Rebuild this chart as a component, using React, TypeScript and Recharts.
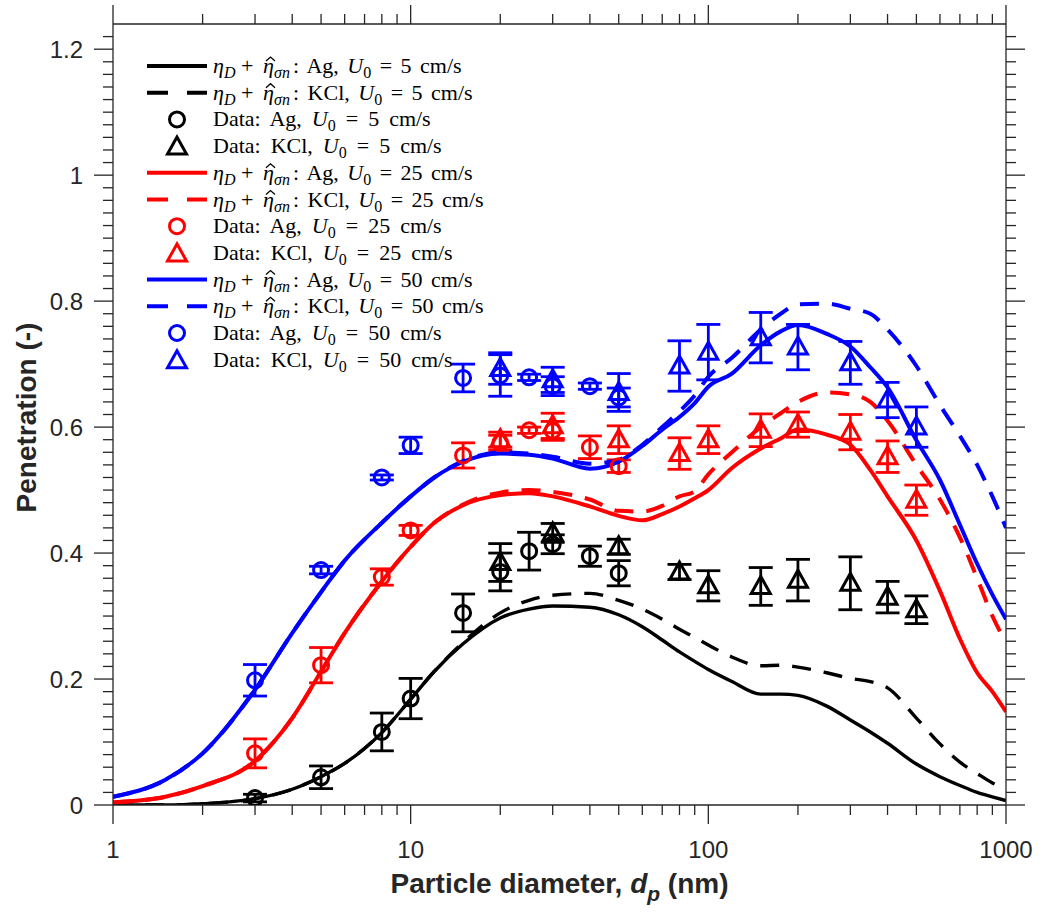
import React from 'react';
import { ComposedChart, Line, Scatter, XAxis, YAxis, ErrorBar, Legend } from 'recharts';

// ---- model curves: particle diameter grid (nm) and penetration values ----
const diam = [1, 1.5, 2, 3, 4, 5, 6, 8, 10, 12, 15, 20, 25, 30, 40, 50, 60, 70, 80, 90, 100, 120, 150, 175, 200, 250, 300, 350, 400, 500, 600, 700, 800, 900, 1000];

const agModel5 = [0.0, 0.0, 0.002, 0.01, 0.025, 0.045, 0.066, 0.115, 0.168, 0.212, 0.256, 0.297, 0.311, 0.316, 0.314, 0.302, 0.283, 0.262, 0.243, 0.228, 0.215, 0.196, 0.176, 0.176, 0.174, 0.157, 0.135, 0.116, 0.098, 0.065, 0.045, 0.031, 0.02, 0.013, 0.007];
const kclModel5 = [0.0, 0.0, 0.002, 0.01, 0.025, 0.045, 0.066, 0.115, 0.168, 0.212, 0.258, 0.305, 0.325, 0.333, 0.336, 0.325, 0.311, 0.295, 0.279, 0.266, 0.254, 0.235, 0.221, 0.222, 0.219, 0.21, 0.201, 0.196, 0.186, 0.138, 0.097, 0.068, 0.05, 0.035, 0.025];
const agModel25 = [0.004, 0.013, 0.03, 0.07, 0.138, 0.212, 0.273, 0.355, 0.41, 0.448, 0.476, 0.492, 0.495, 0.49, 0.474, 0.459, 0.452, 0.462, 0.474, 0.487, 0.5, 0.535, 0.566, 0.582, 0.596, 0.588, 0.572, 0.532, 0.49, 0.42, 0.34, 0.264, 0.21, 0.18, 0.148];
const kclModel25 = [0.004, 0.013, 0.03, 0.07, 0.138, 0.212, 0.273, 0.355, 0.41, 0.448, 0.477, 0.496, 0.5, 0.497, 0.485, 0.467, 0.466, 0.475, 0.49, 0.498, 0.525, 0.56, 0.6, 0.622, 0.64, 0.655, 0.652, 0.64, 0.61, 0.54, 0.485, 0.425, 0.36, 0.3, 0.258];
const agModel50 = [0.013, 0.04, 0.082, 0.183, 0.273, 0.338, 0.388, 0.448, 0.49, 0.52, 0.545, 0.558, 0.556, 0.55, 0.534, 0.545, 0.57, 0.596, 0.616, 0.638, 0.664, 0.685, 0.73, 0.752, 0.762, 0.748, 0.728, 0.695, 0.663, 0.579, 0.516, 0.445, 0.383, 0.334, 0.295];
const kclModel50 = [0.013, 0.04, 0.082, 0.183, 0.273, 0.338, 0.388, 0.448, 0.49, 0.52, 0.546, 0.56, 0.558, 0.553, 0.542, 0.548, 0.572, 0.6, 0.625, 0.65, 0.68, 0.71, 0.755, 0.78, 0.795, 0.796, 0.788, 0.78, 0.755, 0.697, 0.635, 0.586, 0.54, 0.49, 0.44];

// ---- measurements ----
const agDiam = [3, 5, 8, 10, 15, 20, 25, 30, 40, 50];
const agData5 = [0.011, 0.044, 0.116, 0.169, 0.305, 0.37, 0.403, 0.414, 0.395, 0.368];
const agErr5 = [0.006, 0.018, 0.03, 0.032, 0.03, 0.03, 0.03, 0.015, 0.016, 0.02];
const agData25 = [0.082, 0.222, 0.362, 0.436, 0.555, 0.575, 0.595, 0.594, 0.568, 0.538];
const agErr25 = [0.023, 0.028, 0.013, 0.008, 0.02, 0.012, 0.005, 0.015, 0.018, 0.01];
const agData50 = [0.198, 0.373, 0.52, 0.571, 0.678, 0.682, 0.679, 0.665, 0.665, 0.647];
const agErr50 = [0.025, 0.006, 0.004, 0.013, 0.022, 0.033, 0.005, 0.015, 0.005, 0.015];

const kclDiam = [20, 30, 50, 80, 100, 150, 200, 300, 400, 500];
const kclData5 = [0.385, 0.432, 0.41, 0.37, 0.348, 0.347, 0.357, 0.352, 0.33, 0.31];
const kclErr5 = [0.03, 0.015, 0.012, 0.012, 0.024, 0.03, 0.033, 0.042, 0.025, 0.022];
const kclData25 = [0.58, 0.602, 0.58, 0.558, 0.58, 0.595, 0.604, 0.592, 0.553, 0.484];
const kclErr25 = [0.012, 0.02, 0.022, 0.025, 0.022, 0.026, 0.02, 0.028, 0.025, 0.024];
const kclData50 = [0.693, 0.675, 0.655, 0.697, 0.719, 0.742, 0.727, 0.702, 0.643, 0.6];
const kclErr50 = [0.025, 0.02, 0.03, 0.04, 0.044, 0.04, 0.036, 0.034, 0.028, 0.032];

// ---- axis ticks ----
const xMajorTicks = [1, 10, 100, 1000];
const xMinorSteps = [2, 3, 4, 5, 6, 7, 8, 9];
const yMajorTicks = [0, 0.2, 0.4, 0.6, 0.8, 1, 1.2];

const BLACK = '#000000';
const RED = '#ff0000';
const BLUE = '#0000ff';
const AXIS = '#262626';

const xTicks: number[] = [];
xMajorTicks.forEach((m, i) => {
  xTicks.push(m);
  if (i < xMajorTicks.length - 1) xMinorSteps.forEach((s) => xTicks.push(m * s));
});
const yTicks: number[] = [];
for (let i = 0; i <= 61; i++) yTicks.push(Math.round(i * 2) / 100);
const isYMajor = (v: number) => yMajorTicks.some((m) => Math.abs(m - v) < 1e-9);
const isXMajor = (v: number) => xMajorTicks.includes(v);

const curveTable = diam.map((d, i) => ({
  d,
  agModel5: agModel5[i],
  kclModel5: kclModel5[i],
  agModel25: agModel25[i],
  kclModel25: kclModel25[i],
  agModel50: agModel50[i],
  kclModel50: kclModel50[i],
}));

const points = (xs: number[], ys: number[], es: number[]) => xs.map((d, i) => ({ d, v: ys[i], e: es[i] }));

const MAJOR_LEN = 19;
const MINOR_LEN = 10;
const SANS = 'Liberation Sans, Arial, sans-serif';
const TICK_FONT = { fontFamily: SANS, fontSize: 24, fill: AXIS };

const BottomTick = (p: any) => {
  const v = p.payload.value;
  const major = isXMajor(v);
  return (
    <g>
      <line x1={p.x} x2={p.x} y1={p.y} y2={p.y + (major ? MAJOR_LEN : MINOR_LEN)} stroke={AXIS} strokeWidth={1.3} />
      {major && (
        <text x={p.x} y={p.y + 53} textAnchor="middle" {...TICK_FONT}>
          {v}
        </text>
      )}
    </g>
  );
};

const TopTick = (p: any) => {
  const v = p.payload.value;
  const major = isXMajor(v);
  return <line x1={p.x} x2={p.x} y1={p.y} y2={p.y - (major ? MAJOR_LEN : MINOR_LEN)} stroke={AXIS} strokeWidth={1.3} />;
};

const LeftTick = (p: any) => {
  const v = p.payload.value;
  const major = isYMajor(v);
  return (
    <g>
      <line x1={p.x} x2={p.x - (major ? MAJOR_LEN : MINOR_LEN)} y1={p.y} y2={p.y} stroke={AXIS} strokeWidth={1.3} />
      {major && (
        <text x={p.x - 30} y={p.y} dy="0.36em" textAnchor="end" {...TICK_FONT}>
          {String(Math.round(v * 10) / 10)}
        </text>
      )}
    </g>
  );
};

const RightTick = (p: any) => {
  const v = p.payload.value;
  const major = isYMajor(v);
  return <line x1={p.x} x2={p.x + (major ? MAJOR_LEN : MINOR_LEN)} y1={p.y} y2={p.y} stroke={AXIS} strokeWidth={1.3} />;
};

const MARK_W = 3;
const circleShape = (color: string) => (p: any) => (
  <circle cx={p.cx} cy={p.cy} r={7.5} fill="none" stroke={color} strokeWidth={MARK_W} />
);
const triangleShape = (color: string) => (p: any) => (
  <polygon
    points={`${p.cx},${p.cy - 10} ${p.cx - 9.5},${p.cy + 7} ${p.cx + 9.5},${p.cy + 7}`}
    fill="none"
    stroke={color}
    strokeWidth={MARK_W}
    strokeLinejoin="miter"
  />
);

// ---- legend ----
const SERIF = 'Liberation Serif, Times New Roman, serif';
const FS = 22;
const SUB = 16;

// model entry: η_D + η̂_σn: salt, U_0 = speed cm/s
const ModelLabel = ({ base, salt, speed }: { base: number; salt: string; speed: string }) => (
  <g fontFamily={SERIF} fontSize={FS} fill="#000">
    <text x={66} y={base}>
      <tspan fontStyle="italic">η</tspan>
      <tspan fontStyle="italic" fontSize={SUB} dy={5}>D</tspan>
      <tspan dy={-5}>{' +'}</tspan>
    </text>
    <text x={116} y={base} fontStyle="italic">η</text>
    <path
      d={`M${119} ${base - 12} L${123.5} ${base - 16} L${128} ${base - 12}`}
      stroke="#000"
      strokeWidth={1.3}
      fill="none"
    />
    <text x={127} y={base + 5} fontStyle="italic" fontSize={SUB}>σn</text>
    <text x={146} y={base} wordSpacing={3}>
      <tspan>{`: ${salt}, `}</tspan>
      <tspan fontStyle="italic">U</tspan>
      <tspan fontSize={SUB} dy={5}>0</tspan>
      <tspan dy={-5}>{` = ${speed} cm/s`}</tspan>
    </text>
  </g>
);

const DataLabel = ({ base, salt, speed }: { base: number; salt: string; speed: string }) => (
  <text x={66} y={base} fontFamily={SERIF} fontSize={FS} fill="#000" wordSpacing={4.5}>
    <tspan>{`Data: ${salt}, `}</tspan>
    <tspan fontStyle="italic">U</tspan>
    <tspan fontSize={SUB} dy={5}>0</tspan>
    <tspan dy={-5}>{` = ${speed} cm/s`}</tspan>
  </text>
);

const legendRows = [
  { kind: 'solid', color: BLACK, salt: 'Ag', speed: '5' },
  { kind: 'dash', color: BLACK, salt: 'KCl', speed: '5' },
  { kind: 'circle', color: BLACK, salt: 'Ag', speed: '5' },
  { kind: 'tri', color: BLACK, salt: 'KCl', speed: '5' },
  { kind: 'solid', color: RED, salt: 'Ag', speed: '25' },
  { kind: 'dash', color: RED, salt: 'KCl', speed: '25' },
  { kind: 'circle', color: RED, salt: 'Ag', speed: '25' },
  { kind: 'tri', color: RED, salt: 'KCl', speed: '25' },
  { kind: 'solid', color: BLUE, salt: 'Ag', speed: '50' },
  { kind: 'dash', color: BLUE, salt: 'KCl', speed: '50' },
  { kind: 'circle', color: BLUE, salt: 'Ag', speed: '50' },
  { kind: 'tri', color: BLUE, salt: 'KCl', speed: '50' },
];

const LegendBox = () => {
  const rowH = 26.7;
  return (
    <svg width={380} height={330} style={{ display: 'block', overflow: 'visible' }}>
      {legendRows.map((r, i) => {
        const cy = 13 + i * rowH;
        let sample: React.ReactNode = null;
        if (r.kind === 'solid') sample = <line x1={0} x2={60} y1={cy} y2={cy} stroke={r.color} strokeWidth={4} />;
        else if (r.kind === 'dash')
          sample = <line x1={0} x2={60} y1={cy} y2={cy} stroke={r.color} strokeWidth={4} strokeDasharray="21 19" />;
        else if (r.kind === 'circle') sample = circleShape(r.color)({ cx: 30, cy });
        else sample = triangleShape(r.color)({ cx: 30, cy: cy + 1 });
        const isModel = r.kind === 'solid' || r.kind === 'dash';
        return (
          <g key={i}>
            {sample}
            {isModel ? (
              <ModelLabel base={cy + 7} salt={r.salt} speed={r.speed} />
            ) : (
              <DataLabel base={cy + 7} salt={r.salt} speed={r.speed} />
            )}
          </g>
        );
      })}
    </svg>
  );
};

const XLabel = (p: any) => {
  const vb = p.viewBox;
  return (
    <text x={vb.x + vb.width / 2} y={vb.y + 88} textAnchor="middle" fontFamily={SANS} fontWeight="bold" fontSize={28} fill={AXIS}>
      <tspan>Particle diameter, </tspan>
      <tspan fontStyle="italic">d</tspan>
      <tspan fontStyle="italic" fontSize={21} dy={8}>p</tspan>
      <tspan dy={-8}> (nm)</tspan>
    </text>
  );
};

const YLabel = (p: any) => {
  const vb = p.viewBox;
  const cx = 36;
  const cy = vb.y + vb.height / 2 + 3;
  return (
    <text
      x={cx}
      y={cy}
      transform={`rotate(-90, ${cx}, ${cy})`}
      textAnchor="middle"
      fontFamily={SANS}
      fontWeight="bold"
      fontSize={28}
      fill={AXIS}
    >
      Penetration (-)
    </text>
  );
};

const lineProps = { xAxisId: 'b', yAxisId: 'l', dot: false, isAnimationActive: false, type: 'monotone' as const, strokeWidth: 4, activeDot: false, legendType: 'none' as const };
const DASH = '19 13';

export default function App() {
  const renderScatter = (key: string, data: any[], color: string, shape: string) => (
    <Scatter
      key={key}
      xAxisId="b"
      yAxisId="l"
      data={data}
      dataKey="v"
      isAnimationActive={false}
      legendType="none"
      shape={shape === 'circle' ? circleShape(color) : triangleShape(color)}
    >
      <ErrorBar dataKey="e" direction="y" width={12} stroke={color} strokeWidth={2.8} isAnimationActive={false} />
    </Scatter>
  );

  return (
    <div style={{ position: 'absolute', left: 0, top: 0, width: 1040, height: 911, background: '#fff' }}>
      <ComposedChart width={1040} height={911} data={curveTable} margin={{ top: 0, right: 0, bottom: 0, left: 0 }}>
        <XAxis
          xAxisId="b"
          dataKey="d"
          type="number"
          scale="log"
          domain={[1, 1000]}
          allowDataOverflow
          ticks={xTicks}
          interval={0}
          height={106}
          tickSize={0}
          tickMargin={0}
          tickLine={false}
          axisLine={{ stroke: AXIS, strokeWidth: 1.3 }}
          tick={BottomTick}
          label={<XLabel />}
        />
        <XAxis
          xAxisId="t"
          orientation="top"
          dataKey="d"
          type="number"
          scale="log"
          domain={[1, 1000]}
          allowDataOverflow
          ticks={xTicks}
          interval={0}
          height={24}
          tickSize={0}
          tickMargin={0}
          tickLine={false}
          axisLine={{ stroke: AXIS, strokeWidth: 1.3 }}
          tick={TopTick}
        />
        <YAxis
          yAxisId="l"
          type="number"
          domain={[0, 1.24]}
          allowDataOverflow
          ticks={yTicks}
          interval={0}
          width={113}
          tickSize={0}
          tickMargin={0}
          tickLine={false}
          axisLine={{ stroke: AXIS, strokeWidth: 1.3 }}
          tick={LeftTick}
          label={<YLabel />}
        />
        <YAxis
          yAxisId="r"
          orientation="right"
          type="number"
          domain={[0, 1.24]}
          allowDataOverflow
          ticks={yTicks}
          interval={0}
          width={34}
          tickSize={0}
          tickMargin={0}
          tickLine={false}
          axisLine={{ stroke: AXIS, strokeWidth: 1.3 }}
          tick={RightTick}
        />
        <Legend
          layout="vertical"
          align="center"
          verticalAlign="middle"
          content={<LegendBox />}
          wrapperStyle={{ left: 147, top: 53, width: 380, height: 330 }}
        />

        <Line {...lineProps} dataKey="agModel5" stroke={BLACK} strokeWidth={3.4} />
        <Line {...lineProps} dataKey="kclModel5" stroke={BLACK} strokeWidth={3.4} strokeDasharray={DASH} />
        {renderScatter('ag5', points(agDiam, agData5, agErr5), BLACK, 'circle')}
        {renderScatter('kcl5', points(kclDiam, kclData5, kclErr5), BLACK, 'tri')}

        <Line {...lineProps} dataKey="agModel25" stroke={RED} />
        <Line {...lineProps} dataKey="kclModel25" stroke={RED} strokeDasharray={DASH} />
        {renderScatter('ag25', points(agDiam, agData25, agErr25), RED, 'circle')}
        {renderScatter('kcl25', points(kclDiam, kclData25, kclErr25), RED, 'tri')}

        <Line {...lineProps} dataKey="agModel50" stroke={BLUE} />
        <Line {...lineProps} dataKey="kclModel50" stroke={BLUE} strokeDasharray={DASH} />
        {renderScatter('ag50', points(agDiam, agData50, agErr50), BLUE, 'circle')}
        {renderScatter('kcl50', points(kclDiam, kclData50, kclErr50), BLUE, 'tri')}
      </ComposedChart>
    </div>
  );
}
